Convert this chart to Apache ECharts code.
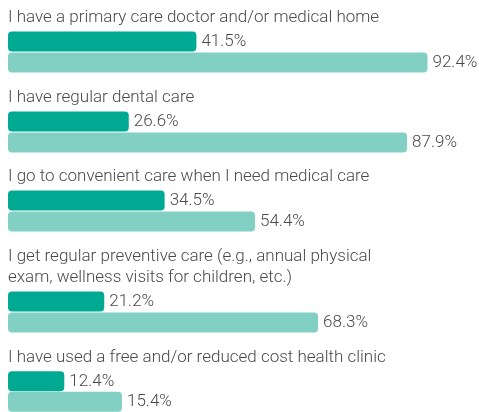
<!DOCTYPE html>
<html>
<head>
<meta charset="utf-8">
<script src="https://cdn.jsdelivr.net/npm/echarts@6/dist/echarts.min.js"></script>
<style>
  html, body { margin: 0; padding: 0; background: #fff; }
  #chart { width: 479px; height: 412px; }
</style>
</head>
<body>
<div id="chart"></div>
<script>
const categories = [
  'I have a primary care doctor and/or medical home',
  'I have regular dental care',
  'I go to convenient care when I need medical care',
  'I get regular preventive care (e.g., annual physical\nexam, wellness visits for children, etc.)',
  'I have used a free and/or reduced cost health clinic'
];
const darkValues = [41.5, 26.6, 34.5, 21.2, 12.4];
const lightValues = [92.4, 87.9, 54.4, 68.3, 15.4];
// bar length as drawn in the source (last bar is drawn longer than its label)
const lightBars = [92.4, 87.9, 54.4, 68.3, 25.1];

const groupTops = [31, 111, 190, 291, 371];

const DARK = '#00a991';
const LIGHT = '#82cfc4';
const TEXT = '#4a4a4a';
const FONT = 'Roboto';

const chart = echarts.init(document.getElementById('chart'));

const grid = [], xAxis = [], yAxis = [], series = [];
categories.forEach((name, i) => {
  grid.push({ left: 8, width: 454, top: groupTops[i], height: 42 });
  xAxis.push({ gridIndex: i, type: 'value', min: 0, max: 100, show: false });
  yAxis.push({
    gridIndex: i,
    type: 'category',
    data: ['light', 'dark'],
    name: name,
    nameLocation: 'end',
    nameGap: 3,
    nameTextStyle: {
      align: 'left',
      verticalAlign: 'bottom',
      color: TEXT,
      fontFamily: FONT,
      fontWeight: 300,
      fontSize: 17,
      lineHeight: 21,
      padding: 0
    },
    axisLine: { show: false },
    axisTick: { show: false },
    axisLabel: { show: false },
    splitLine: { show: false }
  });
  series.push({
    type: 'bar',
    xAxisIndex: i,
    yAxisIndex: i,
    barWidth: 20,
    animation: false,
    data: [
      { value: lightBars[i], itemStyle: { color: LIGHT }, label: { formatter: lightValues[i].toFixed(1) + '%' } },
      { value: darkValues[i], itemStyle: { color: DARK }, label: { formatter: darkValues[i].toFixed(1) + '%' } }
    ],
    itemStyle: { borderRadius: 4 },
    label: {
      show: true,
      position: 'right',
      distance: 5,
      color: TEXT,
      fontFamily: FONT,
      fontWeight: 300,
      fontSize: 17
    }
  });
});

chart.setOption({
  backgroundColor: '#fff',
  animation: false,
  grid: grid,
  xAxis: xAxis,
  yAxis: yAxis,
  series: series
});

window.addEventListener('resize', () => chart.resize());
</script>
</body>
</html>
